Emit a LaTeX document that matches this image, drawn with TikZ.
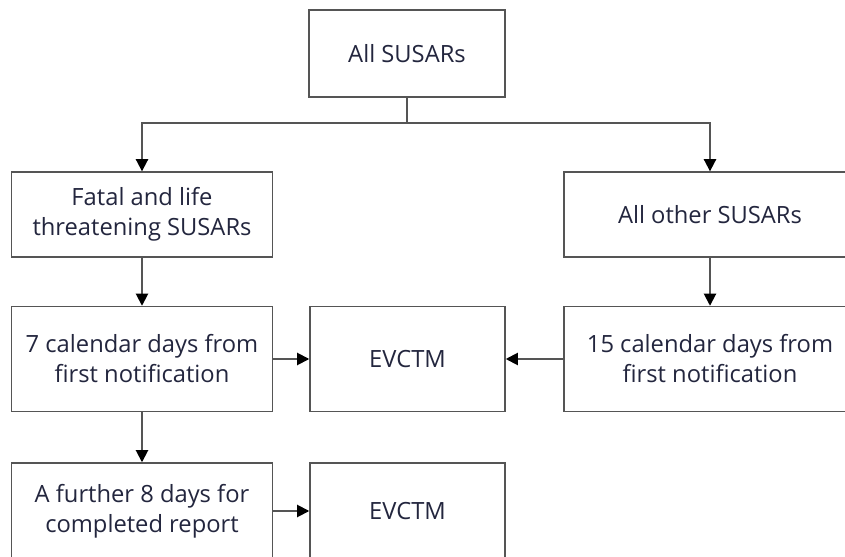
\documentclass[tikz,border=0pt]{standalone}
\usepackage{fontspec}
\setmainfont{Open Sans}
\usepackage{xcolor}
\usepackage{tikz}
\usetikzlibrary{arrows.meta,positioning,calc}

\definecolor{boxline}{RGB}{85,85,85}
\definecolor{boxtext}{RGB}{35,38,62}

\begin{document}
\begin{tikzpicture}
	[x=0.03333cm,y=-0.03333cm,
	box/.style={rectangle,draw=boxline,line width=1.5pt,fill=white,inner sep=0pt,
		align=center,text=boxtext,font=\fontsize{22.5}{28.5}\selectfont},
	link/.style={draw=boxline,line width=1.5pt},
	arr/.style={link,-{Triangle[width=0.42cm,length=0.4cm,fill=black,line width=0pt]}}]
	\clip (0,0) rectangle (845,557);
	%%%%% LEVEL 0
	\node[box,minimum width=6.53cm,minimum height=2.9cm] (all) at (407,53.5) {All SUSARs};
	\coordinate (split) at (407,123);
	%%%%% LEVEL 1
	\node[box,minimum width=8.7cm,minimum height=2.83cm] (fatal) at (142,214.5) {Fatal and life\\threatening SUSARs};
	\node[box,minimum width=9.73cm,minimum height=2.83cm] (other) at (710,214.5) {All other SUSARs};
	%%%%% LEVEL 2
	\node[box,minimum width=8.7cm,minimum height=3.5cm] (seven) at (142,359) {7 calendar days from\\first notification};
	\node[box,minimum width=6.5cm,minimum height=3.5cm] (evctma) at (407.5,359) {EVCTM};
	\node[box,minimum width=9.73cm,minimum height=3.5cm] (fifteen) at (710,359) {15 calendar days from\\first notification};
	%%%%% LEVEL 3
	\node[box,minimum width=8.7cm,minimum height=3.2cm] (further) at (142,511) {A further 8 days for\\completed report};
	\node[box,minimum width=6.5cm,minimum height=3.2cm] (evctmb) at (407.5,511) {EVCTM};
	%%%%% CONNECTORS
	\path[link] (all) -- (split);
	\path[arr] (split) -| (fatal);
	\path[arr] (split) -| (other);
	\path[arr] (fatal) -- (seven);
	\path[arr] (other) -- (fifteen);
	\path[arr] (seven) -- (evctma);
	\path[arr] (fifteen) -- (evctma);
	\path[arr] (seven) -- (further);
	\path[arr] (further) -- (evctmb);
\end{tikzpicture}
\end{document}
